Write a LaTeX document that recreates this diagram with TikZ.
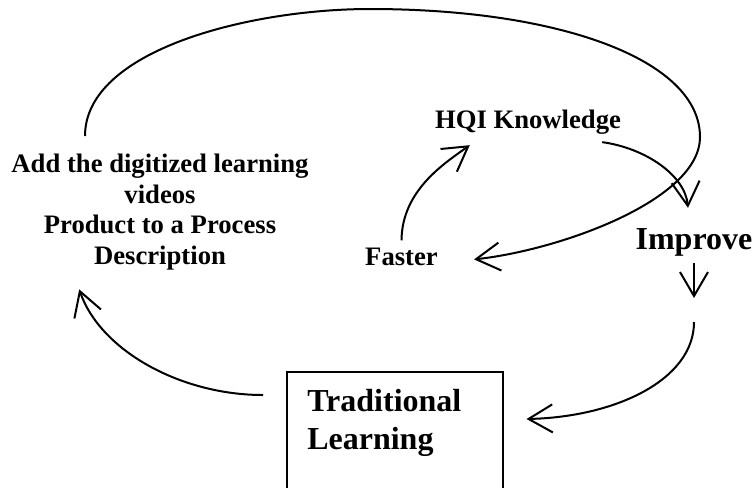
\documentclass[tikz,border=0pt]{standalone}
\usepackage{fontspec}
\setmainfont{Liberation Serif}
\usetikzlibrary{arrows.meta}
\tikzset{
  lbl/.style={font=\bfseries\fontsize{20}{23}\selectfont, inner sep=0pt},
  biglbl/.style={font=\bfseries\fontsize{24}{28.2}\selectfont, inner sep=0pt},
  arw/.style={line width=1.5pt, -{Straight Barb[length=18pt,width=21pt,line width=1.5pt]}},
  loop/.style={line width=1.5pt}
}
\begin{document}
\begin{tikzpicture}[x=0.75pt,y=-0.75pt]
\useasboundingbox (0,0) rectangle (752,487);

\node[lbl, align=center](add) at (160,212) {Add the digitized learning\\videos\\Product to a Process\\Description};
\node[lbl, anchor=base](hqi) at (528,128) {HQI Knowledge};
\node[lbl, anchor=base](faster) at (401.5,265) {Faster};
\node[biglbl, anchor=base](improve) at (694,249) {Improve};
\node[biglbl, anchor=north west, align=left, text width=131.25pt, inner xsep=15pt, inner ysep=13pt](trad) at (287,372) {Traditional\\Learning};
\draw[loop] (trad.north west) rectangle ([shift={(0,150)}]trad.north east);

\coordinate (loopstart) at (85,136);
\coordinate (impdown) at (694,298);

% big loop round the top
\draw[loop] (loopstart) .. controls (85,50) and (250,9) .. (370,9)
  .. controls (560,9) and (700,60) .. (700,137);
\draw[arw] (700,137) .. controls (700,200) and (560,250) .. ([shift={(36,3)}]faster.east);

\draw[arw] ([shift={(0,-7)}]faster.north) .. controls (402,190) and (445,163) .. ([shift={(35,11)}]hqi.south west);
\draw[arw] ([shift={(-19,8)}]hqi.south east) .. controls (645,148) and (685,175) .. ([shift={(-6,-20)}]improve.north);
\draw[arw, shorten <=5pt] (improve.south) -- (impdown);
\draw[arw] ([shift={(0,24)}]impdown) .. controls (694,380) and (615,417) .. ([shift={(24,47)}]trad.north east);
\draw[arw] ([shift={(-24,23)}]trad.north west) .. controls (180,395) and (100,350) .. ([shift={(68,19)}]add.south west);

\end{tikzpicture}
\end{document}
